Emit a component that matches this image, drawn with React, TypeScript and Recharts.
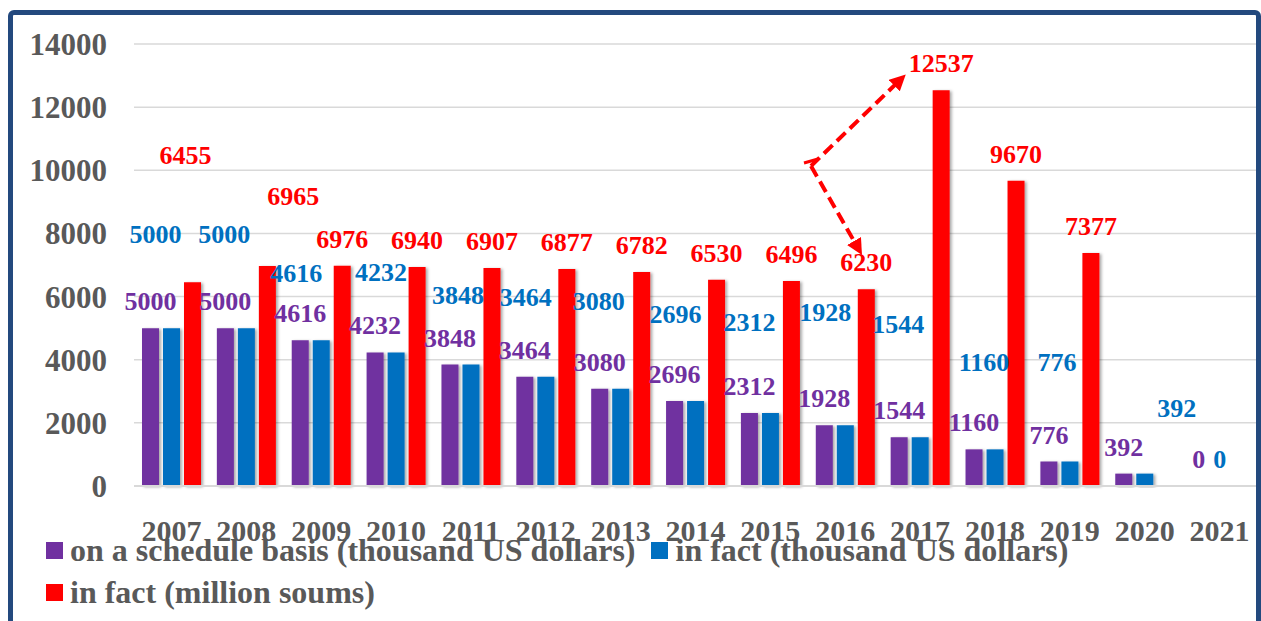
import { Bar, BarChart, CartesianGrid, LabelList, Legend, XAxis, YAxis } from 'recharts';

const years = ['2007', '2008', '2009', '2010', '2011', '2012', '2013', '2014', '2015', '2016', '2017', '2018', '2019', '2020', '2021'];
const scheduleUsd = [5000, 5000, 4616, 4232, 3848, 3464, 3080, 2696, 2312, 1928, 1544, 1160, 776, 392, 0];
const factUsd = [5000, 5000, 4616, 4232, 3848, 3464, 3080, 2696, 2312, 1928, 1544, 1160, 776, 392, 0];
const factSoums = [6455, 6965, 6976, 6940, 6907, 6877, 6782, 6530, 6496, 6230, 12537, 9670, 7377, null, null];
const yTicks = [0, 2000, 4000, 6000, 8000, 10000, 12000, 14000];

// labels were dragged around by hand in the original, so nudge some of them
const blueNudge: [number, number][] = [
  [-16, -67], [-22, -67], [-25, -40], [-15, -53], [-13, -43], [-20, -53], [-22, -61], [-20, -60],
  [-21, -64], [-20, -86], [-22, -86], [-11, -60], [-13, -73], [32, -39], [0, 0],
];
const redNudge: [number, number][] = [[-7, -100], [26, -43]];

const data = years.map((year, i) => ({
  year,
  schedule: scheduleUsd[i],
  factUsd: factUsd[i],
  factSoums: factSoums[i],
}));

const FONT = "'Liberation Serif', 'Times New Roman', serif";
const PURPLE = '#7030A0';
const BLUE = '#0070C0';
const RED = '#FF0000';
const GRAY = '#595959';

const makeLabel = (color: string, nudge: [number, number][]) => (props: any) => {
  const { x, y, width, height, value, index } = props;
  if (value === null || value === undefined) return null;
  const [dx, dy] = nudge[index] || [0, 0];
  // zero-value bars get a tiny height, so use the bar bottom as the top
  const top = Number(value) === 0 ? Number(y) + Number(height) : Number(y);
  return (
    <text
      x={Number(x) + Number(width) / 2 + dx}
      y={top - 18 + dy}
      textAnchor='middle'
      fill={color}
      fontSize={26}
      fontWeight='bold'
      fontFamily={FONT}
    >
      {value}
    </text>
  );
};

const legendItems = [
  { color: PURPLE, text: 'on a schedule basis (thousand US dollars)' },
  { color: BLUE, text: 'in fact (thousand US dollars)' },
  { color: RED, text: 'in fact (million soums)' },
];

function LegendBox() {
  const item = (it: { color: string; text: string }) => (
    <div key={it.text} style={{ display: 'flex', alignItems: 'center', marginRight: 16 }}>
      <div style={{ width: 17, height: 17, background: it.color, marginRight: 7 }} />
      <span style={{ color: GRAY, fontSize: 32, fontWeight: 'bold', fontFamily: FONT, lineHeight: '42px', whiteSpace: 'nowrap' }}>
        {it.text}
      </span>
    </div>
  );
  return (
    <div>
      <div style={{ display: 'flex' }}>{legendItems.slice(0, 2).map(item)}</div>
      <div style={{ display: 'flex' }}>{legendItems.slice(2).map(item)}</div>
    </div>
  );
}

export default function App() {
  return (
    <div style={{ position: 'absolute', left: 0, top: 0, width: 1261, height: 621, background: '#fff', overflow: 'hidden' }}>
      <BarChart
        width={1261}
        height={621}
        data={data}
        margin={{ top: 44, right: 4, bottom: 85, left: 14 }}
        barSize={17}
        barGap={4}
        style={{ fontFamily: FONT, fontWeight: 'bold' }}
      >
        <defs>
          <filter id='barShadow' x='-30%' y='-10%' width='160%' height='120%'>
            <feDropShadow dx='2' dy='1' stdDeviation='1.6' floodColor='#000' floodOpacity='0.35' />
          </filter>
        </defs>
        <CartesianGrid vertical={false} stroke='#d9d9d9' strokeWidth={1.5} />
        <XAxis
          dataKey='year'
          height={50}
          axisLine={{ stroke: '#d9d9d9', strokeWidth: 2 }}
          tickLine={false}
          tickSize={0}
          tickMargin={34}
          tick={{ fill: GRAY, fontSize: 30, fontWeight: 'bold', fontFamily: FONT }}
          interval={0}
        />
        <YAxis
          width={120}
          domain={[0, 14000]}
          ticks={yTicks}
          axisLine={false}
          tickLine={false}
          tickSize={0}
          tickMargin={27}
          tick={{ fill: GRAY, fontSize: 31, fontWeight: 'bold', fontFamily: FONT }}
        />
        <Legend
          verticalAlign='middle'
          content={() => <LegendBox />}
          wrapperStyle={{ position: 'absolute', left: 46, top: 529, width: 1150, height: 90 }}
        />
        <Bar dataKey='schedule' name='on a schedule basis (thousand US dollars)' fill={PURPLE} filter='url(#barShadow)' minPointSize={0.01} isAnimationActive={false}>
          <LabelList dataKey='schedule' content={makeLabel(PURPLE, [])} />
        </Bar>
        <Bar dataKey='factUsd' name='in fact (thousand US dollars)' fill={BLUE} filter='url(#barShadow)' minPointSize={0.01} isAnimationActive={false}>
          <LabelList dataKey='factUsd' content={makeLabel(BLUE, blueNudge)} />
        </Bar>
        <Bar dataKey='factSoums' name='in fact (million soums)' fill={RED} filter='url(#barShadow)' isAnimationActive={false}>
          <LabelList dataKey='factSoums' content={makeLabel(RED, redNudge)} />
        </Bar>
      </BarChart>
      <svg width={1261} height={621} style={{ position: 'absolute', left: 0, top: 0, pointerEvents: 'none' }}>
        <defs>
          <marker id='arrowHead' markerWidth='4' markerHeight='4' refX='2' refY='2' orient='auto'>
            <path d='M0,0 L4,2 L0,4 z' fill={RED} />
          </marker>
        </defs>
        <line x1={811} y1={166} x2={900} y2={80} stroke={RED} strokeWidth={4} strokeDasharray='12 6' markerEnd='url(#arrowHead)' />
        <line x1={811} y1={166} x2={858} y2={248} stroke={RED} strokeWidth={4} strokeDasharray='12 6' markerEnd='url(#arrowHead)' />
        <line x1={804} y1={163} x2={818} y2={159} stroke={RED} strokeWidth={3} />
      </svg>
      <div
        style={{
          position: 'absolute',
          left: 8,
          top: 10,
          width: 1253,
          height: 640,
          boxSizing: 'border-box',
          border: '5px solid #23497E',
          borderRadius: 6,
          pointerEvents: 'none',
        }}
      />
    </div>
  );
}
